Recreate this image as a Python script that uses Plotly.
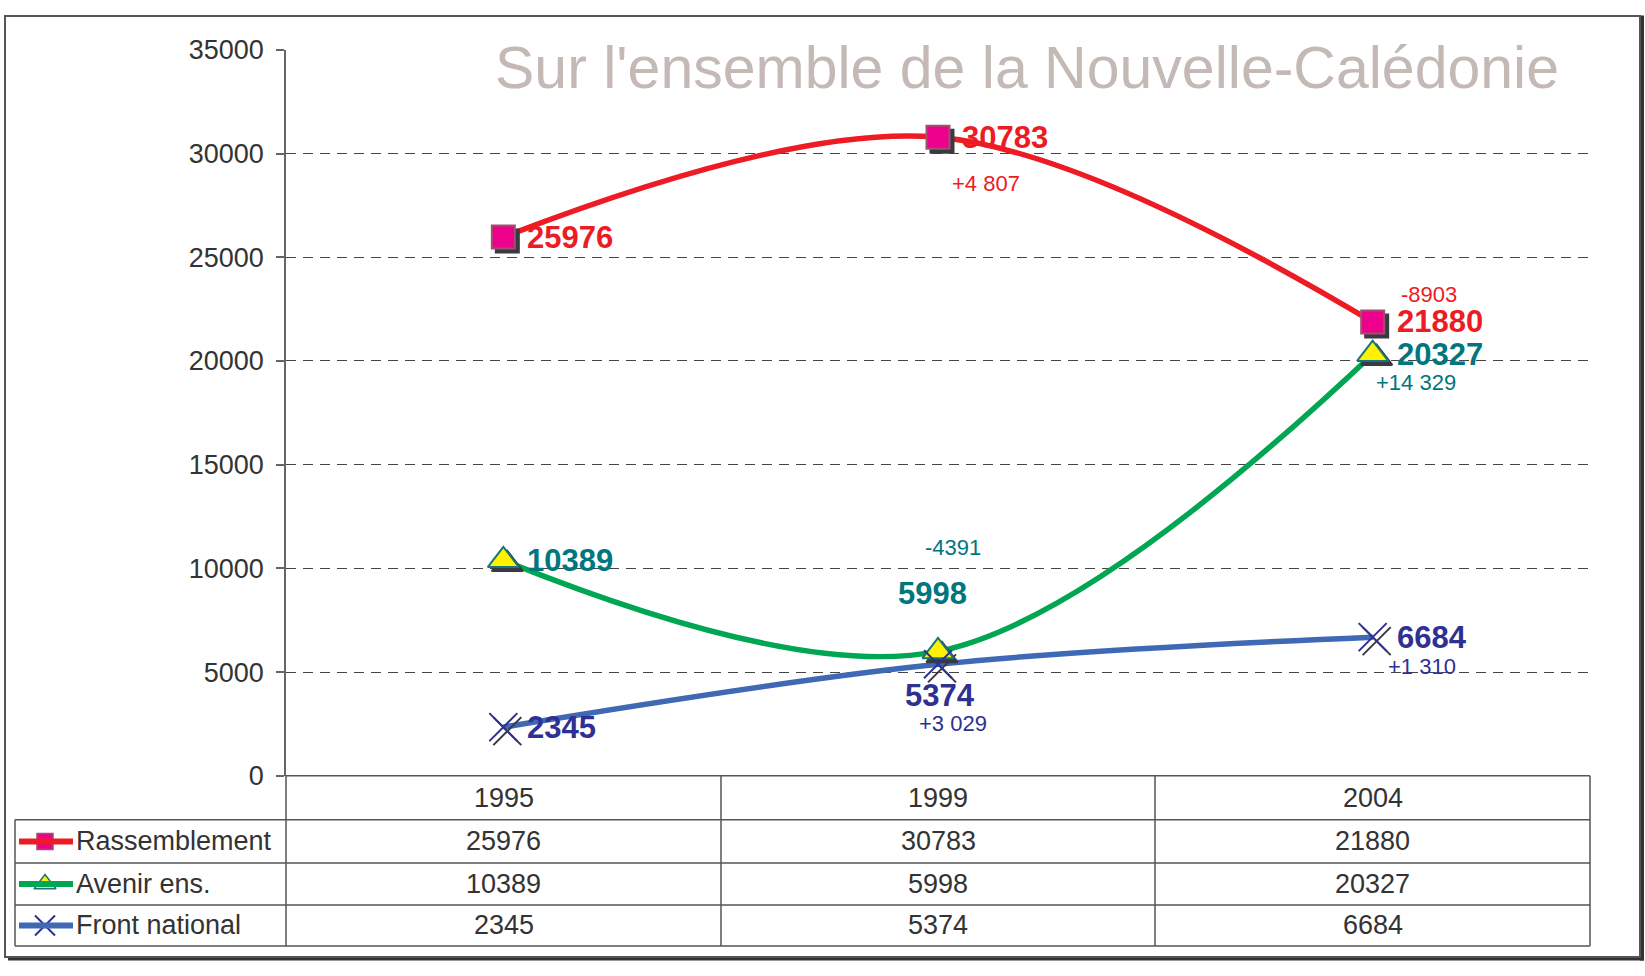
import plotly.graph_objects as go

# ---------------- data ----------------
years = ["1995", "1999", "2004"]
series_names = ["Rassemblement", "Avenir ens.", "Front national"]
rassemblement = [25976, 30783, 21880]
avenir = [10389, 5998, 20327]
front_national = [2345, 5374, 6684]
y_ticks = [0, 5000, 10000, 15000, 20000, 25000, 30000, 35000]
title_text = "Sur l'ensemble de la Nouvelle-Calédonie"

# ---------------- geometry (target pixels) ----------------
W, H = 1645, 976
PL, PR, PT, PB = 286, 1590, 50, 775
Y_MAX = 35000
FONT = "Liberation Sans, Arial, sans-serif"
# vertical calibration of the capture (observed: shown_y = VA + VB * figure_y)
VA, VB = 15.2, 0.968


def fx(px):
    return px / W


def vpx(py):
    """target screen y -> figure y (px)"""
    return min(max((py - VA) / VB, 0.5), H - 0.5)


def fy(py):
    return 1 - vpx(py) / H


def ys(d):
    return d / VB


series = [rassemblement, avenir, front_national]
line_colors = ["#ED1C24", "#00A651", "#3F68B5"]
label_colors = ["#ED1C24", "#00767E", "#2E3192"]
marker_styles = [
    dict(symbol="square", size=23, color="#EC008C", line=dict(color="#A0506E", width=2)),
    dict(symbol="triangle-up", size=27, color="#FFF200", line=dict(color="#17767C", width=2)),
    dict(symbol="x-thin", size=28, color="#2E3192", line=dict(color="#2E3192", width=2)),
]
shadow_styles = [
    dict(symbol="square", size=23, color="#3A3A42", line=dict(color="#3A3A42", width=2)),
    dict(symbol="triangle-up", size=27, color="#3A3A42", line=dict(color="#3A3A42", width=2)),
    dict(symbol="x-thin", size=28, color="#3A3A42", line=dict(color="#3A3A42", width=2)),
]

fig = go.Figure()
xi = list(range(len(years)))  # category positions

for vals, col, name in zip(series, line_colors, series_names):
    fig.add_trace(go.Scatter(
        x=xi, y=vals, mode="lines", name=name,
        line=dict(color=col, width=5.5, shape="spline", smoothing=1),
        xaxis="x", yaxis="y", showlegend=False, cliponaxis=False,
    ))

for vals, st in zip(series, shadow_styles):
    fig.add_trace(go.Scatter(
        x=xi, y=vals, mode="markers", marker=st,
        xaxis="x2", yaxis="y2", showlegend=False, cliponaxis=False, hoverinfo="skip",
    ))

for vals, st, name in zip(series, marker_styles, series_names):
    fig.add_trace(go.Scatter(
        x=xi, y=vals, mode="markers", marker=st, name=name,
        xaxis="x3", yaxis="y3", showlegend=False, cliponaxis=False,
    ))

# ---------------- annotations ----------------
ann = []
ann.append(dict(
    text=title_text, xref="paper", yref="paper", x=fx(1027), y=fy(68),
    xanchor="center", yanchor="middle", showarrow=False,
    font=dict(family=FONT, size=59, color="#C4B9B5"),
))

value_offsets = [
    [(23, 0, "left"), (23, 0, "left"), (23, 0, "left")],
    [(23, 0, "left"), (-6, 56, "center"), (23, 0, "left")],
    [(23, 0, "left"), (2, -30, "center"), (23, 0, "left")],
]
delta_offsets = [
    [(48, -45), (56, 27)],
    [(15, 101), (43, -27)],
    [(15, -57), (49, -28)],
]


def fmt_delta(d):
    if d > 0:
        return "+" + f"{d:,}".replace(",", " ")
    return str(d)


for s, vals in enumerate(series):
    for i, v in enumerate(vals):
        dxs, dys, xa = value_offsets[s][i]
        ann.append(dict(
            text=f"<b>{v}</b>", x=xi[i], y=v, xref="x", yref="y",
            xshift=dxs, yshift=ys(dys), xanchor=xa, yanchor="middle", showarrow=False,
            font=dict(family=FONT, size=31, color=label_colors[s]), borderpad=0,
        ))
    for i in range(1, len(vals)):
        d = vals[i] - vals[i - 1]
        dxs, dys = delta_offsets[s][i - 1]
        ann.append(dict(
            text=fmt_delta(d), x=xi[i], y=vals[i], xref="x", yref="y",
            xshift=dxs, yshift=ys(dys), xanchor="center", yanchor="middle", showarrow=False,
            font=dict(family=FONT, size=22, color=label_colors[s]), borderpad=0,
        ))

# ---------------- data table ----------------
row_lines = [775, 819, 862, 904, 945]
col_lines = [PL, 721, 1155, PR]
LEFT = 15
shapes = []
GRID_C = "#555555"
shapes.append(dict(type="line", xref="paper", yref="paper", x0=fx(PL), x1=fx(PR),
                   y0=fy(row_lines[0]), y1=fy(row_lines[0]), line=dict(color=GRID_C, width=1.5)))
for ry in row_lines[1:]:
    shapes.append(dict(type="line", xref="paper", yref="paper", x0=fx(LEFT), x1=fx(PR),
                       y0=fy(ry), y1=fy(ry), line=dict(color=GRID_C, width=1.5)))
for cx in col_lines:
    shapes.append(dict(type="line", xref="paper", yref="paper", x0=fx(cx), x1=fx(cx),
                       y0=fy(row_lines[0]), y1=fy(row_lines[-1]), line=dict(color=GRID_C, width=1.5)))
shapes.append(dict(type="line", xref="paper", yref="paper", x0=fx(LEFT), x1=fx(LEFT),
                   y0=fy(row_lines[1]), y1=fy(row_lines[-1]), line=dict(color=GRID_C, width=1.5)))

col_centers = [(col_lines[i] + col_lines[i + 1]) / 2 for i in range(len(years))]
row_centers = [(row_lines[i] + row_lines[i + 1]) / 2 for i in range(len(row_lines) - 1)]
TABLE_FONT = dict(family=FONT, size=27, color="#333333")
for j, yr in enumerate(years):
    ann.append(dict(text=yr, xref="paper", yref="paper", x=fx(col_centers[j]), y=fy(row_centers[0]),
                    xanchor="center", yanchor="middle", showarrow=False, font=TABLE_FONT))
for s, vals in enumerate(series):
    rc = row_centers[s + 1]
    ann.append(dict(text=series_names[s], xref="paper", yref="paper", x=fx(74), y=fy(rc),
                    xanchor="left", yanchor="middle", showarrow=False, font=TABLE_FONT))
    for j, v in enumerate(vals):
        ann.append(dict(text=str(v), xref="paper", yref="paper", x=fx(col_centers[j]), y=fy(rc),
                        xanchor="center", yanchor="middle", showarrow=False, font=TABLE_FONT))
    shapes.append(dict(type="line", xref="paper", yref="paper", x0=fx(19), x1=fx(73),
                       y0=fy(rc), y1=fy(rc), line=dict(color=line_colors[s], width=6)))

# legend glyph markers on a full-figure helper axis
glyph_x = [45, 45, 45]
glyph_y = [vpx(r) for r in row_centers[1:]]
glyph_styles = [
    dict(symbol="square", size=16, color="#EC008C", line=dict(color="#A0506E", width=1.5)),
    dict(symbol="triangle-up", size=19, color="#FFF200", line=dict(color="#17767C", width=1.5)),
    dict(symbol="x-thin", size=20, color="#2E3192", line=dict(color="#2E3192", width=2)),
]
for gx, gy, st in zip(glyph_x, glyph_y, glyph_styles):
    fig.add_trace(go.Scatter(x=[gx], y=[gy], mode="markers", marker=st, xaxis="x4", yaxis="y4",
                             showlegend=False, cliponaxis=False, hoverinfo="skip"))

# outer frame with shadow
shapes.append(dict(type="rect", xref="paper", yref="paper", x0=fx(8), x1=fx(1644),
                   y0=1 - (H - 0.5) / H, y1=1 - (H - 4) / H,
                   fillcolor="#333333", line=dict(width=0), layer="below"))
shapes.append(dict(type="rect", xref="paper", yref="paper", x0=fx(1640), x1=fx(1644),
                   y0=1 - (H - 0.5) / H, y1=fy(5), fillcolor="#333333", line=dict(width=0), layer="below"))
shapes.append(dict(type="rect", xref="paper", yref="paper", x0=fx(5), x1=fx(1640),
                   y0=1 - (H - 4) / H, y1=1 - 1.0 / H, line=dict(color="#555555", width=2), layer="below"))

# ---------------- axes ----------------
x_dom = [fx(PL), fx(PR)]
y_dom = [fy(PB), fy(PT)]
x_range = [-0.5, len(years) - 0.5]
px_per_cat = (PR - PL) / len(years)
SH = 4  # shadow offset in px
dx = SH / px_per_cat
dy = ys(SH) * Y_MAX / (vpx(PB) - vpx(PT))

fig.update_layout(
    width=W, height=H,
    margin=dict(l=0, r=0, t=0, b=0),
    paper_bgcolor="white", plot_bgcolor="rgba(0,0,0,0)",
    showlegend=False,
    annotations=ann, shapes=shapes,
    xaxis=dict(domain=x_dom, anchor="y", range=x_range, tickvals=xi, ticktext=years,
               showticklabels=False, showgrid=False, zeroline=False,
               showline=False, ticks=""),
    yaxis=dict(domain=y_dom, anchor="x", range=[0, Y_MAX], tickvals=y_ticks,
               ticktext=[str(t) for t in y_ticks],
               ticks="outside", ticklen=8, tickcolor="#666666", tickwidth=1.5,
               showline=True, linecolor="#666666", linewidth=1.5,
               showgrid=True, gridcolor="#444444", gridwidth=1, griddash="10px,7px",
               zeroline=False, ticklabelstandoff=7,
               tickfont=dict(family=FONT, size=27, color="#333333")),
    xaxis2=dict(overlaying="x", anchor="y2", range=[x_range[0] - dx, x_range[1] - dx], visible=False),
    yaxis2=dict(overlaying="y", anchor="x2", range=[dy, Y_MAX + dy], visible=False),
    xaxis3=dict(overlaying="x", anchor="y3", range=x_range, visible=False),
    yaxis3=dict(overlaying="y", anchor="x3", range=[0, Y_MAX], visible=False),
    xaxis4=dict(domain=[0, 1], anchor="y4", range=[0, W], visible=False),
    yaxis4=dict(domain=[0, 1], anchor="x4", range=[H, 0], visible=False),
)

POST = (
    "document.documentElement.style.margin='0';"
    "document.documentElement.style.overflow='hidden';"
    "document.body.style.margin='0';"
    "document.body.style.overflow='hidden';"
    "var gd=document.querySelector('.plotly-graph-div');"
    "if(gd){gd.style.position='fixed';gd.style.top='0px';gd.style.left='0px';}"
)

fig.write_html("out.html", config={"displayModeBar": False}, post_script=POST)
